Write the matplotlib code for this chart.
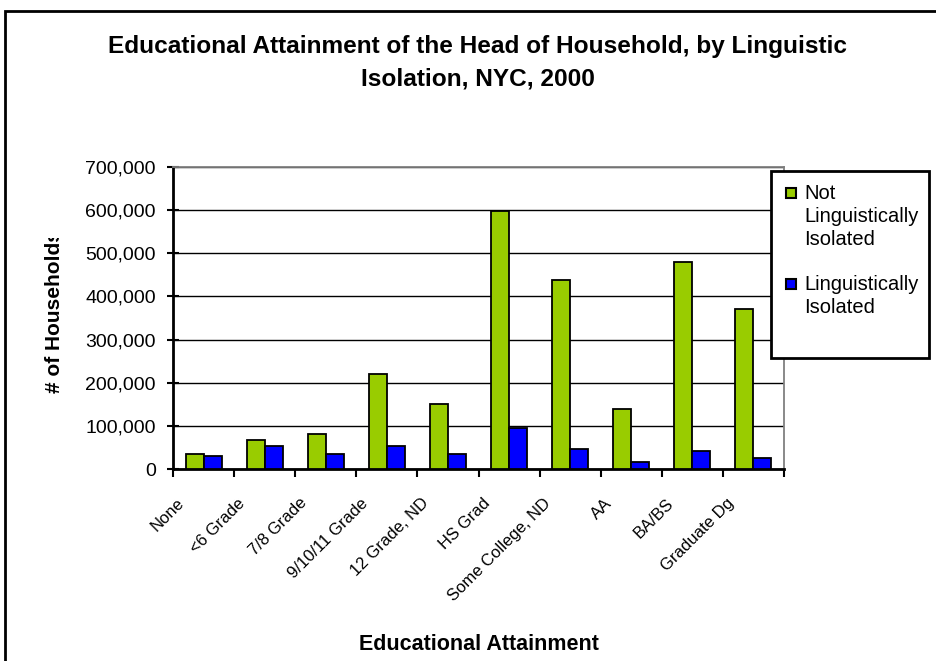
import matplotlib
matplotlib.use('Agg')
import matplotlib.pyplot as plt
import matplotlib.transforms as mtransforms
from matplotlib.patches import Rectangle
from matplotlib.ticker import FuncFormatter, FixedLocator
import numpy as np

plt.rcParams['font.family'] = ['Liberation Sans', 'DejaVu Sans']

# data
categories = ['None', '<6 Grade', '7/8 Grade', '9/10/11 Grade', '12 Grade, ND',
              'HS Grad', 'Some College, ND', 'AA', 'BA/BS', 'Graduate Dg']
not_isolated = [35500, 68000, 80500, 220000, 150000, 598000, 437000, 139000, 479000, 372000]
isolated = [30000, 52500, 35500, 52500, 34000, 95500, 45500, 17000, 41000, 26000]
series_names = ['Not\nLinguistically\nIsolated', 'Linguistically\nIsolated']
yticks = [0, 100000, 200000, 300000, 400000, 500000, 600000, 700000]

green = '#99CC00'
blue = '#0000FF'

W, H = 936, 661
fig = plt.figure(figsize=(W / 100, H / 100), dpi=100)
ax = fig.add_axes([173 / W, 1 - 469 / H, (784 - 173) / W, (469 - 167) / H])

x = np.arange(len(categories))
bw = 0.295
ax.bar(x - bw / 2, not_isolated, bw, color=green, edgecolor='black', linewidth=1.3, zorder=3)
ax.bar(x + bw / 2, isolated, bw, color=blue, edgecolor='black', linewidth=1.3, zorder=3)

ax.set_xlim(-0.5, len(categories) - 0.5)
ax.set_ylim(0, 700000)
ax.set_yticks(yticks)
ax.yaxis.set_major_formatter(FuncFormatter(lambda v, p: f'{int(v):,}'))
ax.yaxis.grid(True, color='black', linewidth=1.0, zorder=0)
ax.set_axisbelow(True)

# spines: left/bottom black, top/right grey (plot area border)
for s in ['left', 'bottom']:
    ax.spines[s].set_linewidth(2)
    ax.spines[s].set_color('black')
for s in ['top', 'right']:
    ax.spines[s].set_linewidth(1.3)
    ax.spines[s].set_color('#808080')

ax.tick_params(axis='y', direction='inout', length=9, width=1.5, pad=8, labelsize=14)

# x: tick marks at category boundaries, labels at centres
ax.xaxis.set_minor_locator(FixedLocator(np.arange(len(categories) + 1) - 0.5))
ax.set_xticks(x)
ax.set_xticklabels(categories, rotation=45, ha='right', rotation_mode='anchor', fontsize=12)
ax.tick_params(axis='x', which='major', length=0, pad=19)
ax.tick_params(axis='x', which='minor', direction='out', length=6, width=1.5)
offset = mtransforms.ScaledTranslation(-27 / 100, 0, fig.dpi_scale_trans)
for lab in ax.get_xticklabels():
    lab.set_transform(lab.get_transform() + offset)

# outer chart frame (cropped at right and bottom)
fig.patches.append(Rectangle((5 / W, -0.1), 1.2, 1 - 11 / H + 0.1, transform=fig.transFigure,
                             fill=False, edgecolor='black', linewidth=2, zorder=1))

fig.text(478 / W, 1 - 63 / H,
         'Educational Attainment of the Head of Household, by Linguistic\nIsolation, NYC, 2000',
         ha='center', va='center', fontsize=17.6, fontweight='bold', linespacing=1.5)

fig.text(479 / W, 1 - 644 / H, 'Educational Attainment', ha='center', va='center',
         fontsize=15.5, fontweight='bold')

ylab = fig.text(55 / W, 1 - 312 / H, '# of Households', ha='center', va='center',
                rotation=90, fontsize=15, fontweight='bold')
clip = mtransforms.TransformedBbox(mtransforms.Bbox([[0, 0], [1, 1 - 238 / H]]), fig.transFigure)
ylab.set_clip_box(clip)
ylab.set_clip_on(True)

# legend box, drawn by hand so the swatch sits beside the first line
fig.patches.append(Rectangle((771 / W, 1 - 358 / H), (929 - 771) / W, (358 - 171) / H,
                             transform=fig.transFigure, facecolor='white', edgecolor='black',
                             linewidth=2, zorder=4))
for i, (name, col) in enumerate(zip(series_names, [green, blue])):
    ytop = 184 + i * 91
    fig.patches.append(Rectangle((786 / W, 1 - (ytop + 14) / H), 10 / W, 10 / H,
                                 transform=fig.transFigure, facecolor=col, edgecolor='black',
                                 linewidth=1.5, zorder=5))
    fig.text(804 / W, 1 - ytop / H, name, ha='left', va='top', fontsize=14.5,
             linespacing=1.28, zorder=6)

fig.savefig('out.png', dpi=100)
